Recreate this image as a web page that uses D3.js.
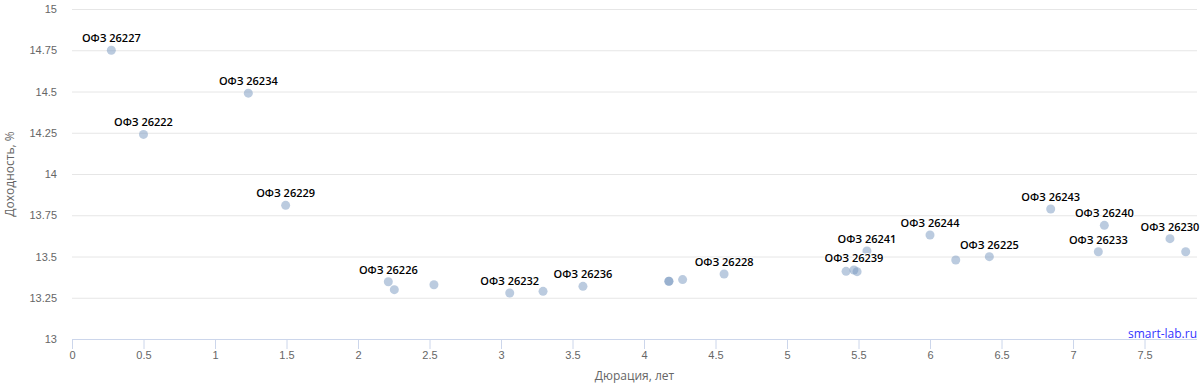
<!DOCTYPE html>
<html>
<head>
<meta charset="utf-8">
<script src="https://cdn.jsdelivr.net/npm/d3@7"></script>
<style>
  body { margin: 0; background: #fff; }
  svg { font-family: "Open Sans", "DejaVu Sans", sans-serif; }
</style>
</head>
<body>
<svg id="chart" width="1200" height="388"></svg>
<script>
// выпуски ОФЗ: название (null - подпись скрыта), дюрация, доходность
var names = ["ОФЗ 26227", "ОФЗ 26222", "ОФЗ 26234", "ОФЗ 26229", "ОФЗ 26226", null, null,
  "ОФЗ 26232", null, "ОФЗ 26236", null, null, null, "ОФЗ 26228",
  null, "ОФЗ 26239", null, "ОФЗ 26241", "ОФЗ 26244", null, "ОФЗ 26225",
  "ОФЗ 26243", "ОФЗ 26233", "ОФЗ 26240", "ОФЗ 26230", null];
var durations = [0.275, 0.50, 1.233, 1.494, 2.212, 2.254, 2.531,
  3.061, 3.294, 3.573, 4.173, 4.175, 4.27, 4.56,
  5.413, 5.468, 5.49, 5.559, 6.0, 6.18, 6.415,
  6.844, 7.177, 7.219, 7.678, 7.788];
var yields = [14.75, 14.24, 14.49, 13.81, 13.347, 13.299, 13.329,
  13.279, 13.289, 13.319, 13.35, 13.35, 13.36, 13.394,
  13.41, 13.418, 13.408, 13.533, 13.63, 13.479, 13.499,
  13.788, 13.529, 13.689, 13.608, 13.529];
var xTicks = [0, 0.5, 1, 1.5, 2, 2.5, 3, 3.5, 4, 4.5, 5, 5.5, 6, 6.5, 7, 7.5];
var yTicks = [13, 13.25, 13.5, 13.75, 14, 14.25, 14.5, 14.75, 15];

var svg = d3.select("#chart");
var plotL = 72, plotR = 1197, plotT = 9, plotB = 339;

var x = d3.scaleLinear().domain([0, 7.867]).range([plotL, plotR]);
var y = d3.scaleLinear().domain([13, 15]).range([plotB, plotT]);

// сетка
svg.append("g").selectAll("line")
  .data(yTicks.slice(1))
  .enter().append("line")
  .attr("x1", plotL).attr("x2", plotR)
  .attr("y1", d => y(d) + 0.5).attr("y2", d => y(d) + 0.5)
  .attr("stroke", "#e6e6e6").attr("stroke-width", 1);

// ось Y
var yAxis = svg.append("g")
  .attr("transform", "translate(" + (plotL - 15) + ",0)")
  .call(d3.axisLeft(y).tickValues(yTicks).tickSize(0).tickFormat(d => String(d)));
yAxis.select(".domain").remove();
yAxis.selectAll("text").attr("fill", "#666").style("font-size", "11px").attr("x", 0);

// ось X
var xAxis = svg.append("g")
  .attr("transform", "translate(0," + plotB + ")")
  .call(d3.axisBottom(x).tickValues(xTicks).tickSize(10).tickFormat(d => String(d)));
xAxis.select(".domain").attr("stroke", "#ccd6eb").attr("d", "M" + plotL + ",0.5H" + plotR);
xAxis.selectAll(".tick line").attr("stroke", "#ccd6eb");
xAxis.selectAll("text").attr("fill", "#666").style("font-size", "11px").attr("y", 12);

// подписи осей
svg.append("text")
  .attr("x", (plotL + plotR) / 2).attr("y", 380)
  .attr("text-anchor", "middle")
  .attr("fill", "#666").style("font-size", "12px")
  .text("Дюрация, лет");
svg.append("text")
  .attr("transform", "translate(14," + ((plotT + plotB) / 2) + ") rotate(-90)")
  .attr("text-anchor", "middle")
  .attr("fill", "#666").style("font-size", "12px")
  .text("Доходность, %");

// точки
var pts = durations.map((d, i) => ({ name: names[i], x: d, y: yields[i] }));
svg.append("g").selectAll("circle")
  .data(pts)
  .enter().append("circle")
  .attr("cx", d => x(d.x))
  .attr("cy", d => y(d.y))
  .attr("r", 4.5)
  .attr("fill", "rgba(119,152,191,0.5)");

// подписи точек
svg.append("g").selectAll("text")
  .data(pts.filter(d => d.name))
  .enter().append("text")
  .attr("x", d => x(d.x))
  .attr("y", d => y(d.y) - 8)
  .attr("text-anchor", "middle")
  .attr("fill", "#000")
  .attr("stroke", "#fff").attr("stroke-width", 2).attr("paint-order", "stroke")
  .style("font-size", "11px").style("font-weight", "600")
  .text(d => d.name);

// кредит
svg.append("text")
  .attr("x", plotR).attr("y", 338)
  .attr("text-anchor", "end")
  .attr("fill", "#3333ff").style("font-size", "12px")
  .text("smart-lab.ru");
</script>
</body>
</html>
